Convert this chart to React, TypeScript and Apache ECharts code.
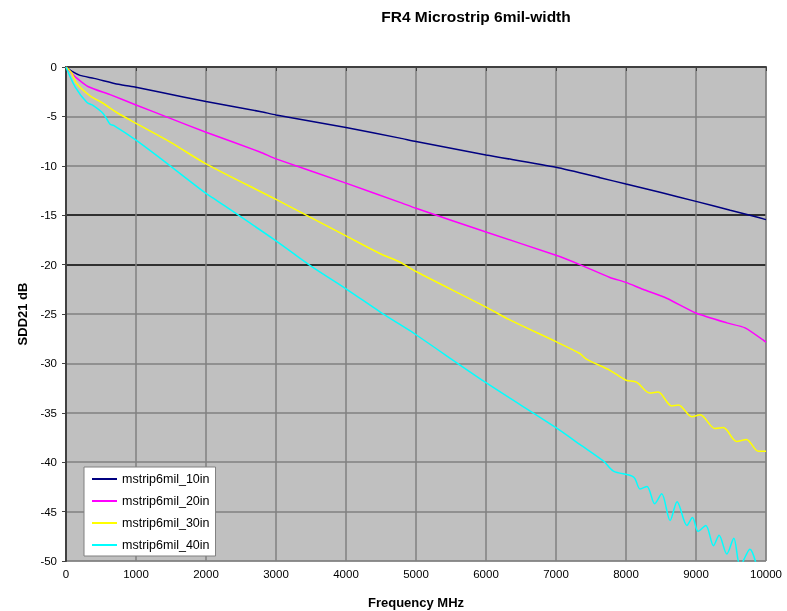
import React, { useEffect, useRef } from "react";
import * as echarts from "echarts";

const titleText = "FR4 Microstrip 6mil-width";
const xAxisName = "Frequency MHz";
const yAxisName = "SDD21 dB";

const seriesNames = ["mstrip6mil_10in", "mstrip6mil_20in", "mstrip6mil_30in", "mstrip6mil_40in"];
const seriesColors = ["#000080", "#ff00ff", "#ffff00", "#00ffff"];

const freq10 = [0, 100, 200, 400, 750, 1000, 1350, 2000, 2770, 3000, 4000, 4770, 5000, 6000, 7000, 7630, 8000, 8500, 9000, 9490, 9770, 10000];
const sdd10 = [0, -0.5, -0.85, -1.15, -1.75, -2.05, -2.55, -3.5, -4.5, -4.85, -6.13, -7.2, -7.55, -8.9, -10.15, -11.2, -11.85, -12.7, -13.6, -14.5, -15.0, -15.45];

const freq20 = [0, 50, 150, 320, 630, 1000, 1490, 2000, 2770, 3000, 4000, 4770, 5000, 6000, 7000, 7340, 7770, 8000, 8240, 8580, 9000, 9440, 9700, 10000];
const sdd20 = [0, -0.4, -1.1, -2.0, -2.8, -3.84, -5.2, -6.6, -8.6, -9.3, -11.75, -13.7, -14.3, -16.7, -19.06, -20.0, -21.3, -21.8, -22.5, -23.4, -24.9, -25.9, -26.4, -27.85];

const freq30 = [0, 80, 150, 340, 530, 720, 1000, 1490, 2000, 3000, 4000, 4490, 4770, 5000, 6000, 6340, 7000, 7340, 7440, 7770, 8000, 8150, 8340, 8460, 8650, 8750, 8940, 9060, 9270, 9390, 9580, 9720, 9890, 10000];
const sdd30 = [0, -0.6, -1.65, -2.9, -3.67, -4.58, -5.7, -7.6, -9.8, -13.4, -17.1, -18.9, -19.75, -20.7, -24.3, -25.6, -27.8, -29.0, -29.6, -30.7, -31.7, -31.9, -33.0, -32.9, -34.3, -34.2, -35.4, -35.2, -36.6, -36.5, -37.9, -37.7, -38.9, -38.9];

const freq40 = [0, 130, 300, 390, 530, 630, 680, 1000, 1340, 2000, 2130, 3000, 3490, 4000, 4490, 4770, 5000, 6000, 7000, 7340, 7680, 7820, 8110, 8200, 8300, 8410, 8510, 8630, 8730, 8870, 8950, 9030, 9140, 9250, 9330, 9440, 9540, 9630, 9770, 9900];
const sdd40 = [0, -2.0, -3.6, -3.9, -4.7, -5.8, -5.9, -7.4, -9.2, -12.8, -13.4, -17.6, -20.1, -22.45, -24.8, -26.06, -27.1, -31.95, -36.5, -38.2, -39.9, -40.9, -41.5, -42.7, -42.45, -44.2, -43.2, -45.9, -44.0, -46.4, -45.6, -47.0, -46.4, -48.45, -47.4, -49.3, -47.7, -50.5, -48.8, -51.5];

const freqs = [freq10, freq20, freq30, freq40];
const values = [sdd10, sdd20, sdd30, sdd40];

const yTickColors = ["#808080", "#808080", "#808080", "#808080", "#808080", "#808080", "#000000", "#000000", "#808080", "#808080", "#808080"];

export default function App() {
  const ref = useRef<HTMLDivElement>(null);
  useEffect(() => {
    if (!ref.current) return;
    const chart = echarts.init(ref.current, null, { renderer: "svg" });
    const font = "'Liberation Sans', Arial, sans-serif";
    chart.setOption({
      animation: false,
      textStyle: { fontFamily: font },
      title: {
        text: titleText,
        left: 471,
        textAlign: "center",
        top: 3,
        textStyle: { fontSize: 15.5, fontWeight: "bold", color: "#000", fontFamily: font },
      },
      legend: {
        orient: "vertical",
        left: 84,
        top: 467,
        backgroundColor: "#ffffff",
        borderColor: "#808080",
        borderWidth: 1,
        padding: [5, 6, 4, 8],
        itemWidth: 25,
        itemHeight: 2,
        itemGap: 8,
        icon: "rect",
        textStyle: { fontSize: 12.5, color: "#000", fontFamily: font, lineHeight: 14 },
        data: seriesNames,
      },
      grid: {
        left: 66,
        right: 21,
        top: 67,
        bottom: 50,
        containLabel: false,
        outerBoundsMode: "none",
        show: true,
        backgroundColor: "#c0c0c0",
        borderColor: "#808080",
        borderWidth: 1,
      },
      xAxis: {
        type: "value",
        min: 0,
        max: 10000,
        interval: 1000,
        name: xAxisName,
        nameLocation: "middle",
        nameGap: 35,
        nameTextStyle: { fontSize: 13, fontWeight: "bold", color: "#000", fontFamily: font },
        axisLine: { lineStyle: { color: "#404040", width: 2 } },
        axisTick: { show: true, length: 4, lineStyle: { color: "#404040" } },
        axisLabel: { fontSize: 11.5, color: "#000", margin: 7, fontFamily: font, formatter: (v: number) => String(v) },
        splitLine: { show: true, lineStyle: { color: "#808080", width: 1.5 } },
      },
      yAxis: {
        type: "value",
        min: -50,
        max: 0,
        interval: 5,
        name: yAxisName,
        nameLocation: "middle",
        nameGap: 37,
        nameRotate: 90,
        nameTextStyle: { fontSize: 13, fontWeight: "bold", color: "#000", fontFamily: font },
        axisLine: { lineStyle: { color: "#404040", width: 2 } },
        axisTick: { show: true, length: 4, lineStyle: { color: "#404040" } },
        axisLabel: { fontSize: 11.5, color: "#000", margin: 9, fontFamily: font, formatter: (v: number) => String(v) },
        splitLine: { show: true, lineStyle: { color: yTickColors, width: 1.5 } },
      },
      series: seriesNames.map((name, i) => ({
        name,
        type: "line",
        showSymbol: false,
        symbol: "none",
        smooth: i >= 2 ? 0.3 : 0.2,
        clip: true,
        color: seriesColors[i],
        lineStyle: { color: seriesColors[i], width: 1.5 },
        itemStyle: { color: seriesColors[i] },
        data: freqs[i].map((f, j) => [f, values[i][j]]),
      })),
    });
    return () => chart.dispose();
  }, []);
  return <div ref={ref} style={{ position: "fixed", left: 0, top: 0, width: 787, height: 611 }} />;
}
